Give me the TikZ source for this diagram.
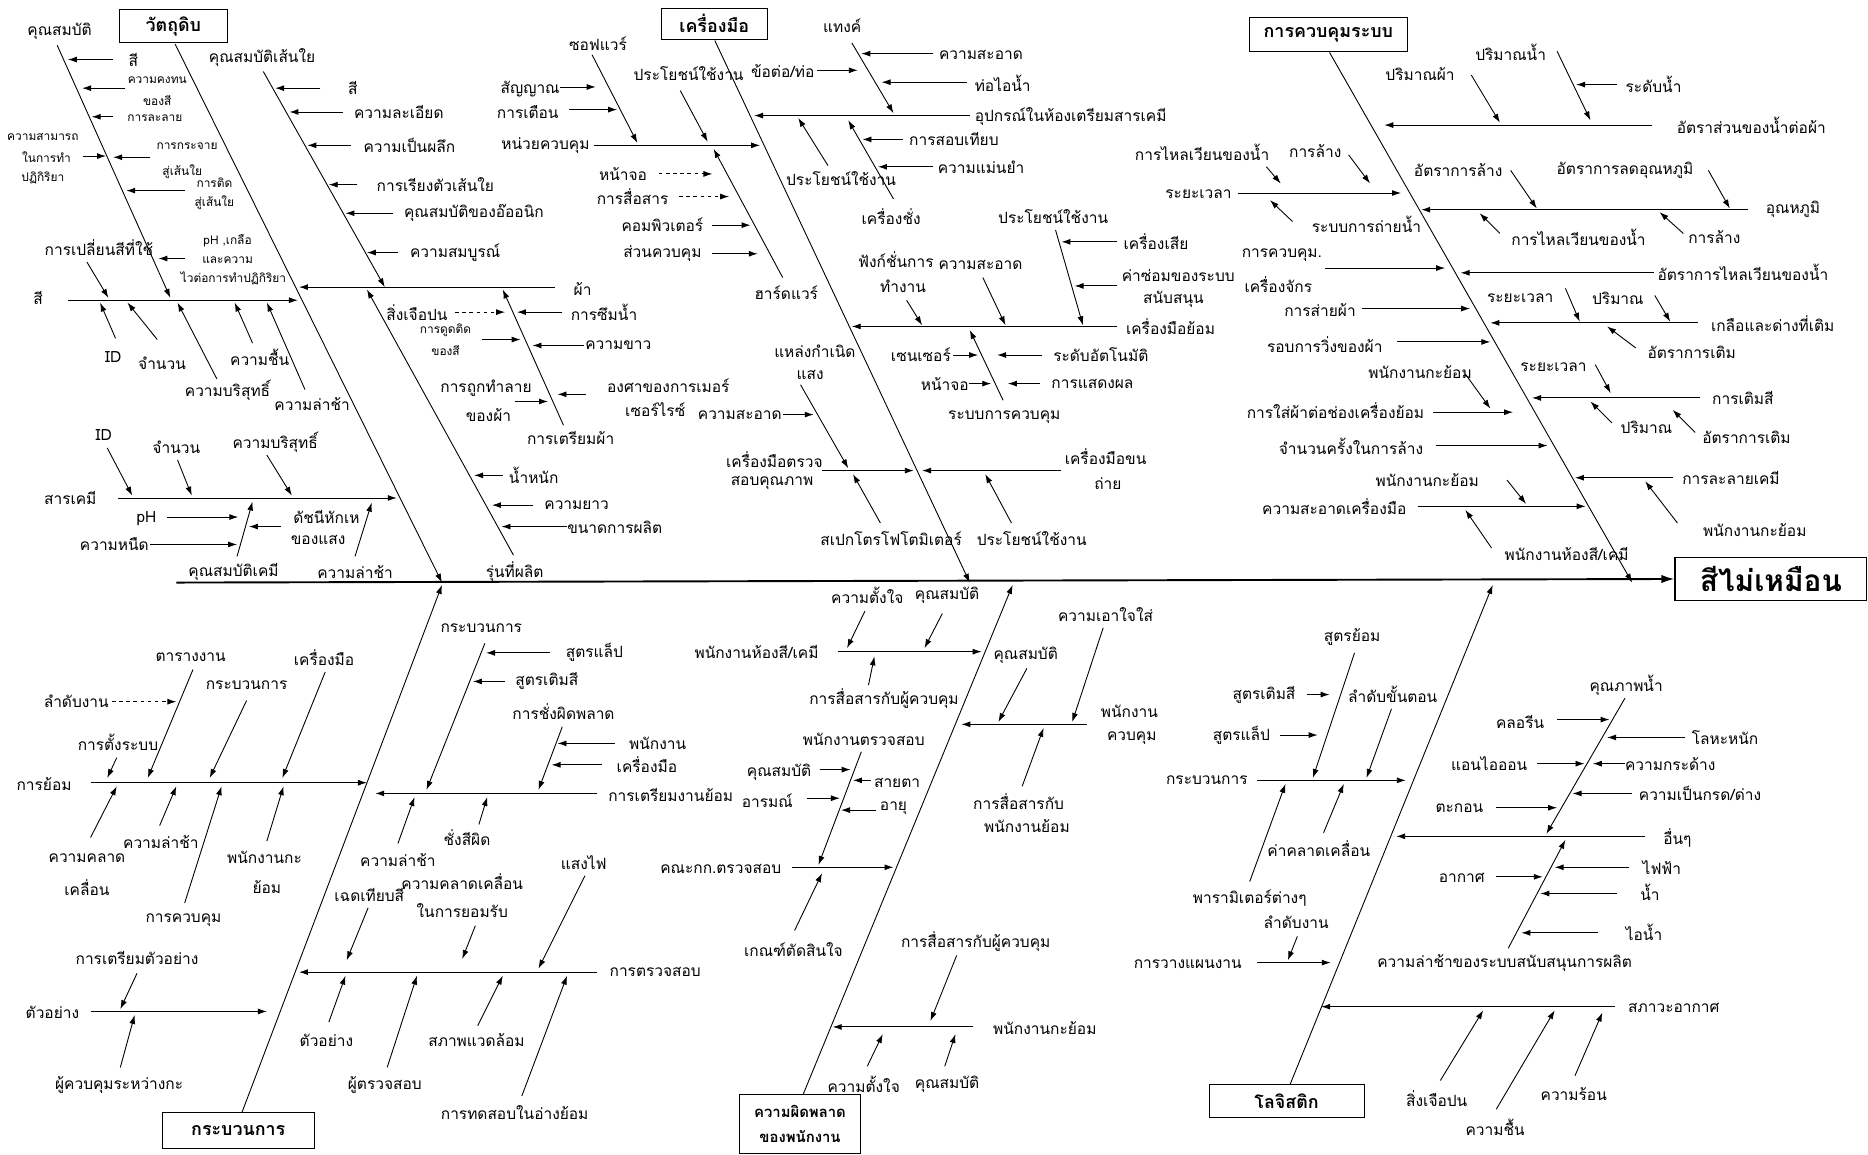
\documentclass[tikz,border=0pt]{standalone}
\usepackage{fontspec}
\setmainfont[Script=Thai]{Loma}
\usetikzlibrary{arrows.meta}
\tikzset{
  lb/.style={font=\fontsize{13}{15}\selectfont, inner sep=1pt},
  sm/.style={font=\fontsize{10}{12}\selectfont, inner sep=1pt},
  ar/.style={-{Latex[length=7.5pt,width=5pt]}, line width=0.75pt},
  da/.style={ar, dashed},
  bone/.style={line width=0.9pt},
  tbox/.style={draw, line width=0.8pt, font=\bfseries\fontsize{15}{17}\selectfont, inner sep=1pt, align=center},
}
\newcommand{\lbl}[4][]{\node[lb,#1] (#2) at (#3) {#4};}
\newcommand{\sml}[4][]{\node[sm,#1] (#2) at (#3) {#4};}
\newcommand{\arw}[3][]{\draw[ar,#1] (#2) -- (#3);}
\begin{document}
\begin{tikzpicture}[x=1pt,y=-1pt]
\useasboundingbox (0,0) rectangle (1568,969);
\fill[white] (0,0) rectangle (1568,969);

% ---------------- spine and head
\node[draw, line width=0.9pt, minimum width=161pt, minimum height=36pt, font=\bfseries\fontsize{25}{27}\selectfont, inner sep=0pt] (head) at (1486.5,486) {สีไม่เหมือน};
\coordinate (S0) at (148,489);
\draw[line width=1.6pt,-{Latex[length=11pt,width=7pt]}] (S0) -- (head.west);

% ---------------- boxes
\node[tbox, minimum width=91pt, minimum height=28pt] (bA) at (145.5,22) {วัตถุดิบ};
\node[tbox, minimum width=89pt, minimum height=26pt] (bB) at (599.5,20) {เครื่องมือ};
\node[tbox, minimum width=132pt, minimum height=28pt] (bC) at (1115,29) {การควบคุมระบบ};
\node[tbox, minimum width=128pt, minimum height=30pt] (bD) at (200,949) {กระบวนการ};
\node[tbox, minimum width=101pt, minimum height=49pt, font=\bfseries\fontsize{12.5}{21}\selectfont] (bE) at (671.5,943.5) {ความผิดพลาด\\ของพนักงาน};
\node[tbox, minimum width=130pt, minimum height=28pt] (bF) at (1080,924) {โลจิสติก};

% ---------------- main bones
\coordinate (A0) at (147,37); \coordinate (A1) at (371,489);
\coordinate (B0) at (600,34); \coordinate (B1) at (814,489);
\coordinate (C0) at (1116,44); \coordinate (C1) at (1370,489);
\coordinate (D0) at (203,934); \coordinate (D1) at (371,491);
\coordinate (E0) at (674,919); \coordinate (E1) at (850,491);
\coordinate (F0) at (1083,910); \coordinate (F1) at (1253,491);
\draw[bone,ar] (A0) -- (A1);
\draw[bone,ar] (B0) -- (B1);
\draw[bone,ar] (C0) -- (C1);
\draw[bone,ar] (D0) -- (D1);
\draw[bone,ar] (E0) -- (E1);
\draw[bone,ar] (F0) -- (F1);

% ================= A : raw material
\lbl{a1}{50,26}{คุณสมบัติ}
\arw{48,38}{143,250}
\lbl{a2}{112,50}{สี}
\arw{95,50}{57,50}
\sml{a3}{132,67}{ความคงทน}
\sml{a3b}{132,84}{ของสี}
\arw{105,74}{69,74}
\sml{a4}{130,99}{การละลาย}
\arw{95,98}{77,98}
\sml{a5}{36,115}{ความสามารถ}
\sml{a5b}{39,132}{ในการทำ}
\sml{a5c}{36,149}{ปฏิกิริยา}
\arw{70,131}{89,131}
\sml{a6}{157,123}{การกระจาย}
\sml{a6b}{153,144}{สู่เส้นใย}
\arw{126,132}{95,132}
\sml{a7}{180,153}{การติด}
\sml{a7b}{180,170}{สู่เส้นใย}
\arw{155,160}{106,160}
\lbl{a8}{83,208}{การเปลี่ยนสีที่ใช้}
\arw{73,220}{91,250}
\sml{a9}{191,202}{pH ,เกลือ}
\sml{a9b}{191,218}{และความ}
\sml{a9c}{196,234}{ไวต่อการทำปฏิกิริยา}
\arw{155,217}{133,217}
\lbl{a10}{32,250}{สี}
\arw{57,252}{250,252}
\lbl{a11}{95,300}{ID}
\arw{97,284}{84,254}
\lbl{a12}{136,305}{จำนวน}
\arw{132,285}{107,254}
\lbl{a13}{191,328}{ความบริสุทธิ์}
\arw{182,318}{149,254}
\lbl{a14}{218,300}{ความชื้น}
\arw{212,288}{197,254}
\lbl{a15}{262,339}{ความล่าช้า}
\arw{256,327}{224,254}

\lbl{a16}{220,48}{คุณสมบัติเส้นใย}
\arw{221,60}{323,241}
\lbl[anchor=west]{a17}{291,74}{สี}
\arw{269,74}{231,74}
\lbl[anchor=west]{a18}{296,94}{ความละเอียด}
\arw{288,94}{243,94}
\lbl[anchor=west]{a19}{304,122}{ความเป็นผลึก}
\arw{295,122}{258,122}
\lbl[anchor=west]{a20}{315,155}{การเรียงตัวเส้นใย}
\arw{300,155}{276,155}
\lbl[anchor=west]{a21}{338,179}{คุณสมบัติของอ๊ออนิก}
\arw{330,179}{290,179}
\lbl[anchor=west]{a22}{343,212}{ความสมบูรณ์}
\arw{334,212}{308,212}

\lbl{a23}{489,243}{ผ้า}
\arw{466,241}{251,241}
\lbl{a24}{350,262}{สิ่งเจือปน}
\arw[dashed]{382,262}{424,262}
\lbl{a25}{507,262}{การซึมน้ำ}
\arw{472,262}{434,262}
\sml{a26}{374,277}{การดูดติด}
\sml{a26b}{374,294}{ของสี}
\arw{405,285}{437,285}
\lbl{a27}{519,290}{ความขาว}
\arw{490,290}{447,290}
\lbl{a28}{408,326}{การถูกทำลาย}
\lbl{a28b}{410,348}{ของผ้า}
\arw{432,337}{460,337}
\lbl{a29}{561,324}{องศาของการเมอร์}
\lbl{a29b}{550,344}{เซอร์ไรซ์}
\arw{492,331}{468,331}
\lbl{a30}{479,368}{การเตรียมผ้า}
\arw{473,357}{422,243}
\lbl{a31}{432,480}{รุ่นที่ผลิต}
\arw{431,466}{308,243}
\lbl{a32}{448,399}{น้ำหนัก}
\arw{422,399}{398,399}
\lbl{a33}{484,424}{ความยาว}
\arw{447,424}{413,424}
\lbl{a34}{516,443}{ขนาดการผลิต}
\arw{476,442}{421,442}

\lbl{a35}{59,418}{สารเคมี}
\arw{99,418}{333,418}
\lbl{a36}{87,365}{ID}
\arw{90,376}{111,416}
\lbl{a37}{148,375}{จำนวน}
\arw{149,386}{161,416}
\lbl{a38}{231,371}{ความบริสุทธิ์}
\arw{224,382}{245,416}
\lbl{a39}{196,480}{คุณสมบัติเคมี}
\arw{199,467}{212,421}
\lbl{a40}{123,435}{pH}
\arw{140,434}{200,434}
\lbl{a41}{96,457}{ความหนืด}
\arw{126,457}{199,457}
\lbl{a42}{274,434}{ดัชนีหักเห}
\lbl{a42b}{267,453}{ของแสง}
\arw{236,442}{209,442}
\lbl{a43}{298,480}{ความล่าช้า}
\arw{298,467}{312,422}

% ================= B : tools
\lbl{b1}{502,37}{ซอฟแวร์}
\arw{497,46}{535,120}
\lbl[anchor=east]{b2}{496,122}{หน่วยควบคุม}
\arw{499,122}{638,122}
\lbl{b3}{445,75}{สัญญาณ}
\arw{470,73}{500,73}
\lbl{b4}{443,94}{การเตือน}
\arw{478,92}{518,92}
\lbl{b5}{578,62}{ประโยชน์ใช้งาน}
\arw{571,76}{594,119}
\lbl{b6}{523,146}{หน้าจอ}
\arw[dashed]{553,146}{598,146}
\lbl{b7}{531,165}{การสื่อสาร}
\arw[dashed]{570,165}{612,165}
\lbl{b8}{556,189}{คอมพิวเตอร์}
\arw{598,189}{630,189}
\lbl{b9}{556,213}{ส่วนควบคุม}
\arw{598,213}{636,213}
\lbl{b10}{660,246}{ฮาร์ดแวร์}
\arw{657,233}{599,125}

\lbl{b11}{707,22}{แทงค์}
\arw{715,36}{750,95}
\lbl{b12}{657,60}{ข้อต่อ/ท่อ}
\arw{686,59}{720,59}
\lbl[anchor=west]{b13}{787,46}{ความสะอาด}
\arw{783,45}{723,45}
\lbl[anchor=west]{b14}{817,70}{ท่อไอน้ำ}
\arw{812,69}{740,69}
\lbl[anchor=west]{b15}{817,98}{อุปกรณ์ในห้องเตรียมสารเคมี}
\arw{814,97}{633,97}
\lbl{b16}{706,150}{ประโยชน์ใช้งาน}
\arw{695,139}{670,99}
\lbl{b17}{748,182}{เครื่องชั่ง}
\arw{750,167}{712,101}
\lbl[anchor=west]{b18}{762,117}{การสอบเทียบ}
\arw{758,117}{724,117}
\lbl[anchor=west]{b19}{786,140}{ความแม่นยำ}
\arw{783,140}{737,140}

\lbl[anchor=west]{b20}{944,274}{เครื่องมือย้อม}
\arw{938,274}{715,274}
\lbl{b21}{752,218}{ฟังก์ชั่นการ}
\lbl{b21b}{758,240}{ทำงาน}
\arw{761,252}{774,273}
\lbl{b22}{823,222}{ความสะอาด}
\arw{825,233}{844,273}
\lbl{b23}{884,182}{ประโยชน์ใช้งาน}
\arw{886,193}{909,273}
\lbl[anchor=west]{b24}{942,203}{เครื่องเสีย}
\arw{938,203}{891,203}
\lbl{b25}{989,231}{ค่าซ่อมของระบบ}
\lbl{b25b}{985,251}{สนับสนุน}
\arw{938,240}{902,240}
\lbl{b26}{843,350}{ระบบการควบคุม}
\arw{842,336}{814,277}
\lbl{b27}{773,298}{เซนเซอร์}
\arw{800,298}{821,298}
\lbl{b28}{924,298}{ระดับอัตโนมัติ}
\arw{875,298}{837,298}
\lbl{b29}{793,322}{หน้าจอ}
\arw{813,322}{832,322}
\lbl{b30}{917,322}{การแสดงผล}
\arw{873,322}{846,322}

\lbl{b31}{684,295}{แหล่งกำเนิด}
\lbl{b31b}{680,315}{แสง}
\arw{672,323}{712,393}
\lbl{b32}{621,348}{ความสะอาด}
\arw{657,348}{683,348}
\lbl{b33}{650,386}{เครื่องมือตรวจ}
\lbl{b33b}{648,405}{สอบคุณภาพ}
\arw{690,395}{767,395}
\lbl{b34}{748,452}{สเปกโตรโฟโตมิเตอร์}
\arw{739,439}{716,398}
\lbl{b35}{866,452}{ประโยชน์ใช้งาน}
\arw{849,439}{827,398}
\lbl{b36}{928,383}{เครื่องมือขน}
\lbl{b36b}{930,406}{ถ่าย}
\arw{891,395}{774,395}

% ================= C : system control
\lbl{c1}{1470,105}{อัตราส่วนของน้ำต่อผ้า}
\arw{1387,105}{1162,105}
\lbl{c2}{1192,62}{ปริมาณผ้า}
\arw{1235,63}{1259,103}
\lbl{c3}{1268,44}{ปริมาณน้ำ}
\arw{1307,43}{1335,101}
\lbl{c4}{1388,71}{ระดับน้ำ}
\arw{1357,71}{1323,71}
\lbl{c5}{1505,176}{อุณหภูมิ}
\arw{1467,176}{1193,176}
\lbl{c6}{1224,143}{อัตราการล้าง}
\arw{1268,143}{1290,175}
\lbl{c7}{1364,143}{อัตราการลดอุณหภูมิ}
\arw{1434,143}{1452,175}
\lbl{c8}{1325,199}{การไหลเวียนของน้ำ}
\arw{1259,196}{1242,179}
\lbl{c9}{1439,199}{การล้าง}
\arw{1413,196}{1393,178}
\lbl{c10}{1006,163}{ระยะเวลา}
\arw{1039,162}{1176,162}
\lbl{c11}{1009,128}{การไหลเวียนของน้ำ}
\arw{1063,140}{1075,154}
\lbl{c12}{1104,127}{การล้าง}
\arw{1132,130}{1150,154}
\lbl{c13}{1147,188}{ระบบการถ่ายน้ำ}
\arw{1085,186}{1066,168}
\lbl{c14}{1463,229}{อัตราการไหลเวียนของน้ำ}
\arw{1388,229}{1226,229}
\lbl{c15}{1076,214}{การควบคุม.}
\lbl{c15b}{1073,239}{เครื่องจักร}
\arw{1112,225}{1213,225}
\lbl{c16}{1488,272}{เกลือและด่างที่เติม}
\arw{1425,271}{1251,271}
\lbl{c17}{1276,250}{ระยะเวลา}
\arw{1314,242}{1326,270}
\lbl{c18}{1358,250}{ปริมาณ}
\arw{1389,248}{1402,270}
\lbl{c19}{1420,296}{อัตราการเติม}
\arw{1373,292}{1349,274}
\lbl{c20}{1108,260}{การส่ายผ้า}
\arw{1143,259}{1234,259}
\lbl{c21}{1112,289}{รอบการวิ่งของผ้า}
\arw{1173,287}{1251,287}
\lbl{c22}{1304,308}{ระยะเวลา}
\arw{1339,306}{1352,330}
\lbl{c23}{1463,334}{การเติมสี}
\arw{1427,334}{1286,334}
\lbl{c24}{1382,359}{ปริมาณ}
\arw{1353,355}{1335,337}
\lbl{c25}{1466,367}{อัตราการเติม}
\arw{1423,363}{1404,344}
\lbl{c26}{1192,312}{พนักงานกะย้อม}
\arw{1230,314}{1251,343}
\lbl{c27}{1121,345}{การใส่ผ้าต่อช่องเครื่องย้อม}
\arw{1203,346}{1270,346}
\lbl{c28}{1134,375}{จำนวนครั้งในการล้าง}
\arw{1205,374}{1299,374}
\lbl{c29}{1453,401}{การละลายเคมี}
\arw{1404,401}{1322,401}
\lbl{c30}{1473,445}{พนักงานกะย้อม}
\arw{1408,439}{1381,404}
\lbl{c31}{1198,403}{พนักงานกะย้อม}
\arw{1265,403}{1281,423}
\lbl{c32}{1120,425}{ความสะอาดเครื่องมือ}
\arw{1190,425}{1331,425}
\lbl{c33}{1315,465}{พนักงานห้องสี/เคมี}
\arw{1252,460}{1230,428}

% ================= D : process
\lbl{d1}{37,658}{การย้อม}
\arw{76,657}{308,657}
\lbl{d2}{64,589}{ลำดับงาน}
\arw[dashed]{94,589}{148,589}
\lbl{d3}{160,552}{ตารางงาน}
\arw{162,562}{124,653}
\lbl{d4}{99,623}{การตั้งระบบ}
\arw{98,636}{90,653}
\lbl{d5}{207,575}{กระบวนการ}
\arw{207,588}{176,653}
\lbl{d6}{272,552}{เครื่องมือ}
\arw{273,564}{237,653}
\lbl{d7}{73,720}{ความคลาด}
\lbl{d7b}{73,745}{เคลื่อน}
\arw{76,703}{98,660}
\lbl{d8}{135,707}{ความล่าช้า}
\arw{134,693}{148,660}
\lbl{d9}{154,772}{การควบคุม}
\arw{155,758}{186,660}
\lbl{d10}{222,720}{พนักงานกะ}
\lbl{d10b}{224,745}{ย้อม}
\arw{224,706}{238,660}
\lbl{d11}{44,850}{ตัวอย่าง}
\arw{76,849}{224,849}
\lbl{d12}{115,804}{การเตรียมตัวอย่าง}
\arw{115,817}{101,847}
\lbl{d13}{100,911}{ผู้ควบคุมระหว่างกะ}
\arw{101,896}{113,852}
\lbl{d14}{550,816}{การตรวจสอบ}
\arw{501,816}{251,816}
\lbl{d15}{310,751}{เฉดเทียบสี}
\arw{309,762}{291,806}
\lbl{d16}{388,740}{ความคลาดเคลื่อน}
\lbl{d16b}{388,764}{ในการยอมรับ}
\arw{399,777}{388,805}
\lbl{d17}{490,724}{แสงไฟ}
\arw{491,735}{452,813}
\lbl{d18}{274,873}{ตัวอย่าง}
\arw{276,858}{290,819}
\lbl{d19}{323,911}{ผู้ตรวจสอบ}
\arw{325,896}{350,819}
\lbl{d20}{400,873}{สภาพแวดล้อม}
\arw{401,861}{422,819}
\lbl{d21}{432,934}{การทดสอบในอ่างย้อม}
\arw{438,920}{476,819}
\lbl{d22}{563,667}{การเตรียมงานย้อม}
\arw{501,666}{315,666}
\lbl{d23}{404,527}{กระบวนการ}
\arw{407,540}{358,663}
\lbl{d24}{499,548}{สูตรแล็ป}
\arw{462,548}{408,548}
\lbl{d25}{459,572}{สูตรเติมสี}
\arw{424,572}{397,572}
\lbl{d26}{473,597}{การชั่งผิดพลาด}
\arw{472,610}{452,663}
\lbl{d27}{552,624}{พนักงาน}
\arw{516,624}{468,624}
\lbl{d28}{543,642}{เครื่องมือ}
\arw{505,642}{463,642}
\lbl{d29}{392,703}{ชั่งสีผิด}
\arw{402,692}{409,669}
\lbl{d30}{334,722}{ความล่าช้า}
\arw{334,708}{348,669}

% ================= E : staff error
\lbl{e1}{635,547}{พนักงานห้องสี/เคมี}
\arw{703,547}{824,547}
\lbl{e2}{728,500}{ความตั้งใจ}
\lbl{e3}{795,500}{คุณสมบัติ}
\arw{726,513}{711,544}
\arw{791,515}{776,544}
\lbl{e4}{742,586}{การสื่อสารกับผู้ควบคุม}
\arw{729,575}{734,551}
\lbl{e5}{725,621}{พนักงานตรวจสอบ}
\arw{723,631}{687,726}
\lbl{e6}{654,648}{คุณสมบัติ}
\arw{688,646}{714,646}
\lbl{e7}{753,657}{สายตา}
\arw{731,655}{716,655}
\lbl{e8}{644,672}{อารมณ์}
\arw{677,670}{705,670}
\lbl{e9}{750,678}{อายุ}
\arw{735,680}{706,680}
\lbl{e10}{605,729}{คณะกก.ตรวจสอบ}
\arw{665,728}{750,728}
\lbl{e11}{666,797}{เกณฑ์ตัดสินใจ}
\arw{667,781}{690,733}
\lbl{e12}{877,863}{พนักงานกะย้อม}
\arw{817,862}{699,862}
\lbl{e13}{819,790}{การสื่อสารกับผู้ควบคุม}
\arw{803,802}{781,857}
\lbl{e14}{725,910}{ความตั้งใจ}
\lbl{e15}{795,910}{คุณสมบัติ}
\arw{728,895}{741,868}
\arw{793,895}{802,868}
\lbl{e16}{948,597}{พนักงาน}
\lbl{e16b}{950,620}{ควบคุม}
\arw{912,608}{807,608}
\lbl{e17}{861,550}{คุณสมบัติ}
\arw{862,561}{838,606}
\lbl{e18}{928,516}{ความเอาใจใส่}
\arw{926,527}{900,606}
\lbl{e19}{855,673}{การสื่อสารกับ}
\lbl{e19b}{862,693}{พนักงานย้อม}
\arw{858,660}{876,611}

% ================= F : logistics
\lbl{f1}{1013,655}{กระบวนการ}
\arw{1055,655}{1180,655}
\lbl{f2}{1135,535}{สูตรย้อม}
\arw{1137,548}{1102,653}
\lbl{f3}{1061,583}{สูตรเติมสี}
\arw{1097,583}{1116,583}
\lbl{f4}{1042,617}{สูตรแล็ป}
\arw{1074,617}{1106,617}
\lbl{f5}{1169,583}{ลำดับขั้นตอน}
\arw{1168,595}{1147,653}
\lbl{f6}{1049,754}{พารามิเตอร์ต่างๆ}
\arw{1049,740}{1079,658}
\lbl{f7}{1107,712}{ค่าคลาดเคลื่อน}
\arw{1111,699}{1128,658}
\lbl{f8}{997,809}{การวางแผนงาน}
\arw{1055,808}{1117,808}
\lbl{f9}{1088,774}{ลำดับงาน}
\arw{1089,786}{1081,806}
\lbl{f10}{1405,846}{สภาวะอากาศ}
\arw{1356,845}{1109,845}
\lbl{f11}{1206,922}{สิ่งเจือปน}
\arw{1209,907}{1245,848}
\lbl{f12}{1255,946}{ความชื้น}
\arw{1256,931}{1305,848}
\lbl{f13}{1321,918}{ความร้อน}
\arw{1322,903}{1345,850}
\lbl{f14}{1408,703}{อื่นๆ}
\arw{1381,702}{1172,702}
\lbl{f15}{1263,808}{ความล่าช้าของระบบสนับสนุนการผลิต}
\arw{1266,796}{1314,705}
\lbl{f16}{1227,737}{อากาศ}
\arw{1256,736}{1295,736}
\lbl{f17}{1395,728}{ไฟฟ้า}
\arw{1367,728}{1305,728}
\lbl{f18}{1385,749}{น้ำ}
\arw{1357,750}{1293,750}
\lbl{f19}{1380,783}{ไอน้ำ}
\arw{1341,783}{1277,783}
\lbl{f20}{1365,575}{คุณภาพน้ำ}
\arw{1364,586}{1298,700}
\lbl{f21}{1276,606}{คลอรีน}
\arw{1307,604}{1351,604}
\lbl{f22}{1448,619}{โลหะหนัก}
\arw{1414,619}{1349,619}
\lbl{f23}{1250,641}{แอนไอออน}
\arw{1290,641}{1330,641}
\lbl{f24}{1402,641}{ความกระด้าง}
\arw{1364,641}{1337,641}
\lbl{f25}{1427,666}{ความเป็นกรด/ด่าง}
\arw{1370,666}{1320,666}
\lbl{f26}{1225,678}{ตะกอน}
\arw{1256,678}{1307,678}
\end{tikzpicture}
\end{document}
